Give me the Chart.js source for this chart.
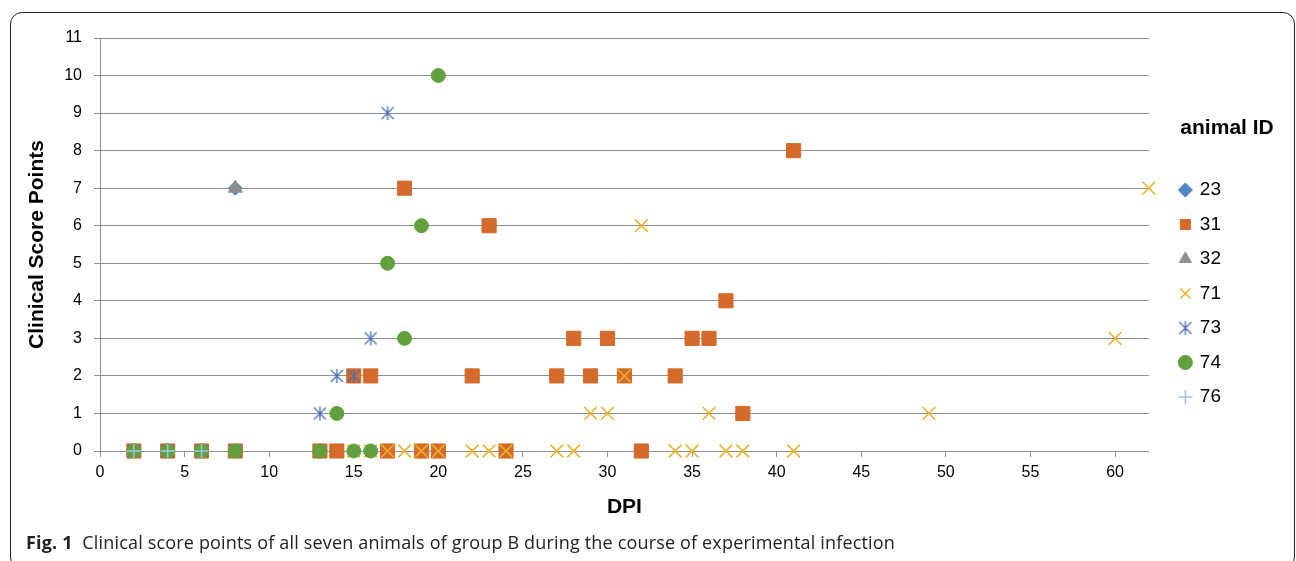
<!DOCTYPE html>
<html>
<head>
<meta charset="utf-8">
<script src="https://cdn.jsdelivr.net/npm/chart.js@4.4.1/dist/chart.umd.min.js"></script>
<style>
  html, body { margin: 0; padding: 0; background: #fff; }
  body { width: 1296px; height: 561px; position: relative; overflow: hidden; }
  .chart-box { position: absolute; left: 0; top: 0; width: 1296px; height: 524px; }
  .frame {
    position: absolute; left: 10px; top: 12px; width: 1285px; height: 557px;
    border: 1.5px solid #222; border-radius: 12px; box-sizing: border-box;
  }
  .caption {
    position: absolute; left: 26px; top: 530px;
    font-family: "Open Sans"; font-size: 18px; letter-spacing: 0.17px; color: #222; white-space: nowrap;
  }
</style>
</head>
<body>
<div class="chart-box"><canvas id="scoreChart"></canvas></div>
<div class="frame"></div>
<div class="caption"><b>Fig. 1</b>&nbsp; Clinical score points of all seven animals of group B during the course of experimental infection</div>
<script>
// animal IDs (legend)
const animalIds = ["23", "31", "32", "71", "73", "74", "76"];

// DPI / score per animal
const dpi23 = [2, 4, 6, 8];
const score23 = [0, 0, 0, 7];

const dpi31 = [2, 4, 6, 8, 13, 14, 15, 16, 17, 18, 19, 20, 22, 23, 24, 27, 28, 29, 30, 31, 32, 34, 35, 36, 37, 38, 41];
const score31 = [0, 0, 0, 0, 0, 0, 2, 2, 0, 7, 0, 0, 2, 6, 0, 2, 3, 2, 3, 2, 0, 2, 3, 3, 4, 1, 8];

const dpi32 = [2, 4, 6, 8];
const score32 = [0, 0, 0, 7];

const dpi71 = [15, 16, 17, 18, 19, 20, 22, 23, 24, 27, 28, 29, 30, 31, 32, 34, 35, 36, 37, 38, 41, 49, 60, 62];
const score71 = [0, 0, 0, 0, 0, 0, 0, 0, 0, 0, 0, 1, 1, 2, 6, 0, 0, 1, 0, 0, 0, 1, 3, 7];

const dpi73 = [2, 4, 6, 8, 13, 14, 15, 16, 17];
const score73 = [0, 0, 0, 0, 1, 2, 2, 3, 9];

const dpi74 = [2, 4, 6, 8, 13, 14, 15, 16, 17, 18, 19, 20];
const score74 = [0, 0, 0, 0, 0, 1, 0, 0, 5, 3, 6, 10];

const dpi76 = [2, 4, 6];
const score76 = [0, 0, 0];

const dpiList = [dpi23, dpi31, dpi32, dpi71, dpi73, dpi74, dpi76];
const scoreList = [score23, score31, score32, score71, score73, score74, score76];

// axis ticks
const xTicks = [0, 5, 10, 15, 20, 25, 30, 35, 40, 45, 50, 55, 60];
const yTicks = [0, 1, 2, 3, 4, 5, 6, 7, 8, 9, 10, 11];

// Excel-like asterisk marker for animal 73
function asterisco(cor) {
  const c = document.createElement("canvas");
  c.width = 16;
  c.height = 16;
  const g = c.getContext("2d");
  g.strokeStyle = cor;
  g.lineWidth = 1.3;
  g.beginPath();
  g.moveTo(8, 1); g.lineTo(8, 15);
  g.moveTo(2, 2); g.lineTo(14, 14);
  g.moveTo(14, 2); g.lineTo(2, 14);
  g.stroke();
  return c;
}

const cores = ["#4F86C6", "#D46B2A", "#8F8F8F", "#EDB120", "#4A6FB5", "#62A03E", "#9DC3E6"];
const estilos = ["rectRot", "rect", "triangle", "crossRot", asterisco("#4A6FB5"), "circle", "cross"];
const raios = [7, 10, 8, 9, 8, 7, 7];
const bordas = [1, 1, 1, 1.5, 1, 1, 1.5];

// the legend clips to its own box; the title and markers stick out a bit
const legendaSemCorte = {
  id: "legendaSemCorte",
  afterInit(chart) {
    const leg = chart.legend;
    if (leg && typeof leg._draw === "function") {
      leg.draw = function () {
        if (this.options.display) this._draw();
      };
    }
  },
};

function grafico() {
  Chart.defaults.font.family = "Liberation Sans";
  Chart.defaults.color = "#000";

  const datasets = animalIds.map((id, i) => ({
    label: id,
    data: dpiList[i].map((d, k) => ({ x: d, y: scoreList[i][k] })),
    pointStyle: estilos[i],
    pointRadius: raios[i],
    pointHoverRadius: raios[i],
    backgroundColor: cores[i],
    borderColor: cores[i],
    borderWidth: bordas[i],
    showLine: false,
    clip: false,
    yAxisID: "y",
    order: animalIds.length - i, // later series on top, like Excel
  }));

  const ctx = document.getElementById("scoreChart").getContext("2d");
  new Chart(ctx, {
    type: "scatter",
    data: { datasets: datasets },
    plugins: [legendaSemCorte],
    options: {
      responsive: true,
      maintainAspectRatio: false,
      animation: false,
      layout: { padding: { left: 21, top: 38, right: 65, bottom: 0 } },
      scales: {
        x: {
          type: "linear",
          min: 0,
          max: 62,
          afterBuildTicks: (s) => { s.ticks = xTicks.map((v) => ({ value: v })); },
          ticks: { font: { size: 16 }, padding: 6, maxRotation: 0 },
          grid: { drawOnChartArea: false, drawTicks: true, tickLength: 6, color: "#8f8f8f" },
          border: { color: "#8f8f8f" },
          title: { display: true, text: "DPI", font: { size: 21, weight: "bold" } },
          afterFit: (s) => { s.height = 73; },
        },
        y: {
          type: "linear",
          position: "left",
          min: 0,
          max: 11,
          afterBuildTicks: (s) => { s.ticks = yTicks.map((v) => ({ value: v })); },
          ticks: { font: { size: 16 }, padding: 12 },
          grid: { color: "#8f8f8f", tickLength: 6 },
          border: { color: "#8f8f8f" },
          title: { display: true, text: "Clinical Score Points", font: { size: 21, weight: "bold" } },
          afterFit: (s) => { s.width = 79; },
        },
        // empty spacer between plot and legend
        gap: {
          type: "linear",
          position: "right",
          display: true,
          grid: { display: false },
          ticks: { display: false },
          border: { display: false },
          afterFit: (s) => { s.width = 31.5; },
        },
      },
      plugins: {
        tooltip: { enabled: false },
        legend: {
          position: "right",
          fullSize: false,
          reverse: true,
          title: {
            display: true,
            text: "animal ID",
            position: "start",
            color: "#000",
            font: { size: 21, weight: "bold" },
            padding: { top: 50.5, bottom: 37.8 },
          },
          labels: {
            usePointStyle: true,
            boxWidth: 10,
            boxHeight: 10,
            padding: 0,
            color: "#000",
            font: { size: 19, lineHeight: "34.5px" },
            generateLabels: (chart) => {
              const itens = Chart.defaults.plugins.legend.labels.generateLabels(chart);
              itens.forEach((it) => { it.text = [it.text]; });
              return itens;
            },
          },
        },
      },
    },
  });
}

grafico();
</script>
</body>
</html>
